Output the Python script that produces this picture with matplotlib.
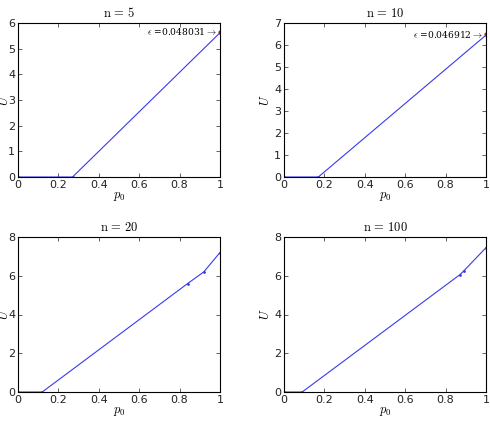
import matplotlib
matplotlib.use("Agg")
import matplotlib.pyplot as plt

plt.rcParams['mathtext.fontset'] = 'cm'

# Piecewise curves U(p0) for each n
n_values = [5, 10, 20, 100]
p0_n5 = [0.0, 0.27, 1.0]
u_n5 = [0.0, 0.0, 5.62]
p0_n10 = [0.0, 0.17, 1.0]
u_n10 = [0.0, 0.0, 6.45]
p0_n20 = [0.0, 0.12, 0.84, 0.92, 1.0]
u_n20 = [0.0, 0.0, 5.6, 6.2, 7.2]
p0_n100 = [0.0, 0.09, 0.87, 0.89, 1.0]
u_n100 = [0.0, 0.0, 6.05, 6.25, 7.45]

# epsilon annotations (top row only)
eps_labels = ["0.048031", "0.046912"]
eps_y = [5.65, 6.5]

y_max = [6, 7, 8, 8]
y_step = [1, 1, 2, 2]

curves = [(p0_n5, u_n5), (p0_n10, u_n10), (p0_n20, u_n20), (p0_n100, u_n100)]

fig = plt.figure(figsize=(4.9, 4.25), dpi=100)
W, H = 490, 425
boxes = [(18, 23, 220, 177), (284, 23, 486, 177),
         (18, 237, 220, 392), (284, 237, 486, 392)]

for i, (n, (x, y), box) in enumerate(zip(n_values, curves, boxes)):
    l, t, r, b = box
    ax = fig.add_axes([l / W, 1 - b / H, (r - l) / W, (b - t) / H])
    ax.plot(x, y, color='#3a3aee', lw=0.8, marker='.', markersize=2)
    ax.set_xlim(0, 1)
    ax.set_ylim(0, y_max[i])
    ax.set_xticks([0, 0.2, 0.4, 0.6, 0.8, 1])
    ax.set_xticklabels(['0', '0.2', '0.4', '0.6', '0.8', '1'])
    ax.set_yticks(range(0, y_max[i] + 1, y_step[i]))
    ax.tick_params(direction='in', top=True, right=True, labelsize=8,
                   length=3, width=0.5, pad=2, colors='#222222')
    for s in ax.spines.values():
        s.set_linewidth(0.8)
    ax.set_title(r'$\mathrm{n}\,=\,%d$' % n, fontsize=9, pad=4)
    ax.set_xlabel(r'$p_0$', fontsize=9, labelpad=0)
    # y label placed by hand; the left column sits hard against the edge
    ux = 4.5 if l < 100 else 265
    fig.text(ux / W, 1 - (t + b) / 2 / H, r'$U$', fontsize=9, rotation=90,
             ha='center', va='center')
    if i < 2:
        ax.plot([1.0], [eps_y[i]], 'o', color='red', markersize=2)
        ax.text(0.985, eps_y[i], r'$\epsilon$ =%s$\rightarrow$' % eps_labels[i],
                ha='right', va='center', fontsize=6.6, family='serif',
                math_fontfamily='cm')

fig.savefig('out.png', dpi=100)
